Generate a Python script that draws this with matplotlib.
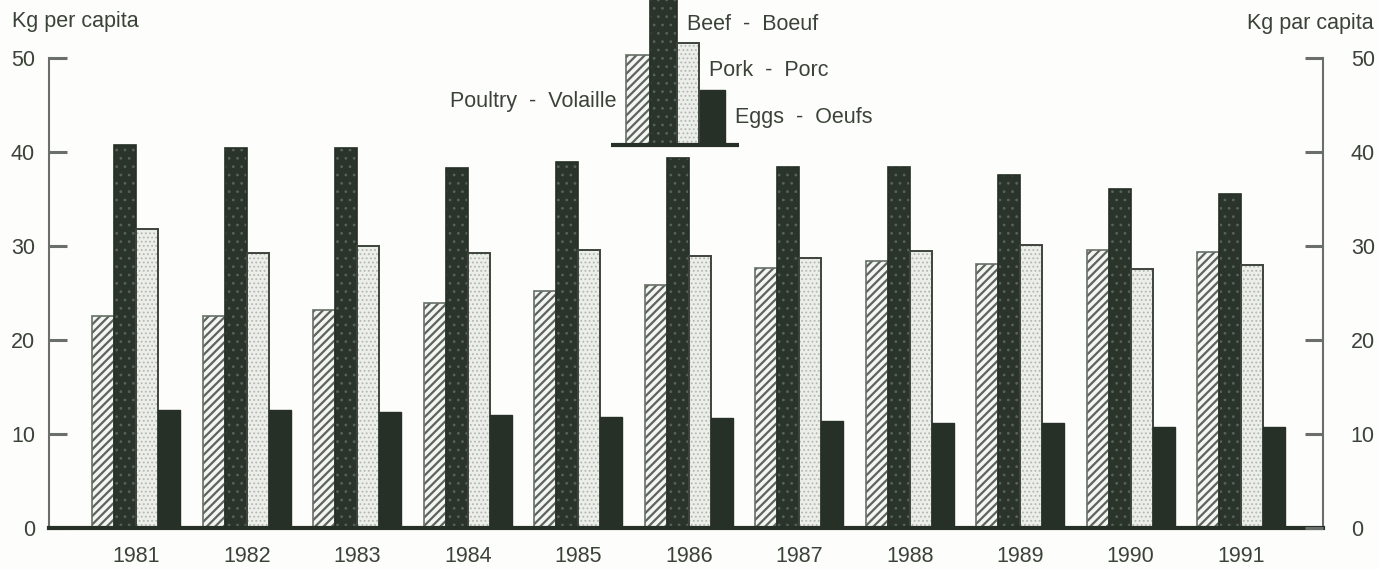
#!/usr/bin/env python3
"""Per capita consumption of poultry, beef, pork and eggs, 1981-1991."""

import matplotlib
matplotlib.use("Agg")
import matplotlib.pyplot as plt
import numpy as np

W, H = 1379, 569
DPI = 100

years = ["1981", "1982", "1983", "1984", "1985", "1986",
         "1987", "1988", "1989", "1990", "1991"]
poultry = [22.5, 22.5, 23.2, 23.9, 25.2, 25.8, 27.6, 28.4, 28.1, 29.6, 29.4]
beef = [40.7, 40.4, 40.4, 38.3, 38.9, 39.4, 38.4, 38.4, 37.5, 36.1, 35.5]
pork = [31.8, 29.2, 30.0, 29.2, 29.6, 28.9, 28.7, 29.5, 30.1, 27.5, 28.0]
eggs = [12.5, 12.5, 12.3, 12.0, 11.75, 11.65, 11.4, 11.1, 11.1, 10.7, 10.7]

legend_labels = ["Poultry  -  Volaille", "Beef  -  Boeuf", "Pork  -  Porc", "Eggs  -  Oeufs"]

TEXT = "#3b4339"
DARK = "#263026"
FONT = "Liberation Sans"
FS = 15.5

plt.rcParams["font.family"] = FONT


def px(x, y):
    """pixel position (from top-left) -> figure fraction"""
    return x / W, 1 - y / H


def draw_bar(ax, x, h, width, kind, **kw):
    if kind == "poultry":
        with plt.rc_context({"hatch.linewidth": 1.6}):
            ax.bar(x, h, width, color="#f4f5f2", edgecolor="#5c655c", hatch="////", lw=0, **kw)
        ax.bar(x, h, width, fill=False, edgecolor="#667066", lw=1.2, **kw)
    elif kind == "beef":
        with plt.rc_context({"hatch.linewidth": 0.8}):
            ax.bar(x, h, width, color="#2a342a", edgecolor="#56625a", hatch="..", lw=0, **kw)
        ax.bar(x, h, width, fill=False, edgecolor=DARK, lw=1.2, **kw)
    elif kind == "pork":
        with plt.rc_context({"hatch.linewidth": 0.8}):
            ax.bar(x, h, width, color="#eceee9", edgecolor="#b3b8b0", hatch="....", lw=0, **kw)
        ax.bar(x, h, width, fill=False, edgecolor="#3c443b", lw=1.4, **kw)
    else:
        ax.bar(x, h, width, color=DARK, edgecolor=DARK, lw=1.0, **kw)


fig = plt.figure(figsize=(W / DPI, H / DPI), dpi=DPI)
fig.patch.set_facecolor("#fdfdfb")

# axes frame: left spine at x=49px, right at 1323px, 0 at 527.7px, 50 at 58px
x0, y0 = px(49, 527.7)
x1, y1 = px(1323, 58)
ax = fig.add_axes([x0, y0, x1 - x0, y1 - y0])
ax.set_facecolor("none")

n = len(years)
idx = np.arange(n)
bw = 0.2
series = [("poultry", poultry), ("beef", beef), ("pork", pork), ("eggs", eggs)]
for k, (kind, vals) in enumerate(series):
    draw_bar(ax, idx + (k - 1.5) * bw, vals, bw, kind, zorder=2)

ax.set_xlim(-0.79, 10.74)
ax.set_ylim(0, 50)

ax.spines["top"].set_visible(False)
for s in ("left", "right"):
    ax.spines[s].set_color("#6a7069")
    ax.spines[s].set_linewidth(1.5)
ax.spines["bottom"].set_color(DARK)
ax.spines["bottom"].set_linewidth(3)
ax.spines["bottom"].set_zorder(3)

ax.set_yticks([0, 10, 20, 30, 40, 50])
ax.tick_params(axis="y", direction="in", length=13, width=2.2, color="#6a7069",
               labelsize=FS, labelcolor=TEXT, pad=10,
               left=True, right=True, labelleft=True, labelright=False)
ax2 = ax.twinx()
ax2.set_ylim(0, 50)
ax2.set_yticks([0, 10, 20, 30, 40, 50])
ax2.tick_params(axis="y", direction="in", length=13, width=2.2, color="#6a7069",
                labelsize=FS, labelcolor=TEXT, pad=20)
for s in ax2.spines.values():
    s.set_visible(False)

ax.set_xticks(idx)
ax.set_xticklabels(years)
ax.tick_params(axis="x", length=0, pad=13, labelsize=FS, labelcolor=TEXT)

fig.text(*px(12, 21), "Kg per capita", fontsize=FS, color=TEXT, va="center", ha="left")
fig.text(*px(1374, 23), "Kg par capita", fontsize=FS, color=TEXT, va="center", ha="right")

# legend: a small bar group at top centre (pixel box 610..740 x 0..148)
lx0, ly0 = px(610, 148)
lx1, ly1 = px(740, 0)
lax = fig.add_axes([lx0, ly0, lx1 - lx0, ly1 - ly0])
lax.set_xlim(0, 130)
lax.set_ylim(0, 148)
lax.axis("off")
leg_x = [28, 53.5, 78, 102]
leg_h = [90, 170, 102, 55]
leg_w = [24, 27, 22, 25]
for (kind, _), lxp, lh, lw in zip(series, leg_x, leg_h, leg_w):
    draw_bar(lax, lxp, lh, lw, kind, bottom=3)
lax.plot([1, 129], [3, 3], color=DARK, lw=3, solid_capstyle="butt")

fig.text(*px(616, 102), legend_labels[0], fontsize=FS, color=TEXT, va="center", ha="right")
fig.text(*px(687, 25), legend_labels[1], fontsize=FS, color=TEXT, va="center", ha="left")
fig.text(*px(709, 70), legend_labels[2], fontsize=FS, color=TEXT, va="center", ha="left")
fig.text(*px(735, 117), legend_labels[3], fontsize=FS, color=TEXT, va="center", ha="left")

fig.savefig("out.png", dpi=DPI, facecolor=fig.get_facecolor())
